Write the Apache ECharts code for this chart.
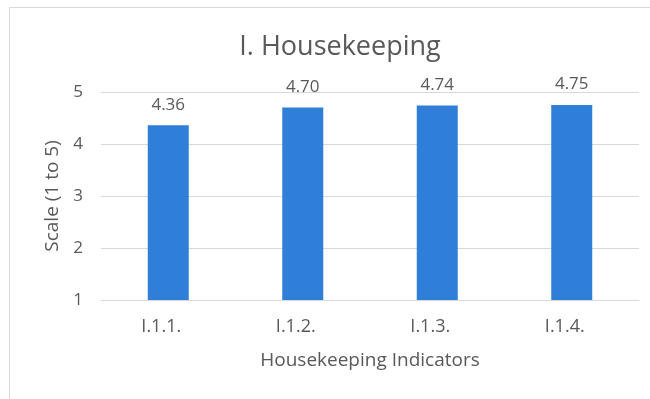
<!DOCTYPE html>
<html>
<head>
<meta charset="utf-8">
<style>
  html, body { margin: 0; padding: 0; background: #ffffff; }
  #chart { width: 650px; height: 399px; }
</style>
<script src="https://cdn.jsdelivr.net/npm/echarts@6/dist/echarts.min.js"></script>
</head>
<body>
<div id="chart"></div>
<script>
// Housekeeping indicator scores on a 1–5 scale
const categories = ['I.1.1.', 'I.1.2.', 'I.1.3.', 'I.1.4.'];
const scores = [4.36, 4.70, 4.74, 4.75];
const yTicks = [1, 2, 3, 4, 5];

const FONT = '"Open Sans", "Noto Sans", sans-serif';
const TEXT = '#595959';

const chart = echarts.init(document.getElementById('chart'), null, { renderer: 'canvas' });

chart.setOption({
  animation: false,
  backgroundColor: '#ffffff',
  graphic: [{
    type: 'rect',
    shape: { x: 9.5, y: 7.5, width: 700, height: 500 },
    style: { fill: 'none', stroke: '#D9D9D9', lineWidth: 1 },
    silent: true
  }],
  title: {
    text: 'I. Housekeeping',
    left: 335,
    top: 29,
    textAlign: 'center',
    textStyle: { fontFamily: FONT, fontSize: 27, fontWeight: 'normal', color: TEXT }
  },
  grid: { left: 101, right: 11, top: 92, bottom: 99 },
  xAxis: {
    type: 'category',
    data: categories,
    name: 'Housekeeping Indicators',
    nameLocation: 'middle',
    nameGap: 51,
    nameTextStyle: { fontFamily: FONT, fontSize: 19, color: TEXT },
    axisLine: { show: true, lineStyle: { color: '#D9D9D9' } },
    axisTick: { show: false },
    axisLabel: { fontFamily: FONT, fontSize: 18, color: TEXT, margin: 18, padding: [0, 14, 0, 0] }
  },
  yAxis: {
    type: 'value',
    min: yTicks[0],
    max: yTicks[yTicks.length - 1],
    interval: 1,
    name: 'Scale (1 to 5)',
    nameLocation: 'middle',
    nameRotate: 90,
    nameGap: 37,
    nameTextStyle: { fontFamily: FONT, fontSize: 19, color: TEXT },
    axisLine: { show: false },
    axisTick: { show: false },
    axisLabel: { fontFamily: FONT, fontSize: 17, color: TEXT, margin: 18 },
    splitLine: { lineStyle: { color: '#D9D9D9' } }
  },
  series: [{
    type: 'bar',
    data: scores,
    barWidth: 41,
    itemStyle: { color: '#2F7ED8' },
    label: {
      show: true,
      position: 'top',
      distance: 12,
      formatter: p => p.value.toFixed(2),
      fontFamily: FONT,
      fontSize: 17,
      color: TEXT
    }
  }]
});
</script>
</body>
</html>
